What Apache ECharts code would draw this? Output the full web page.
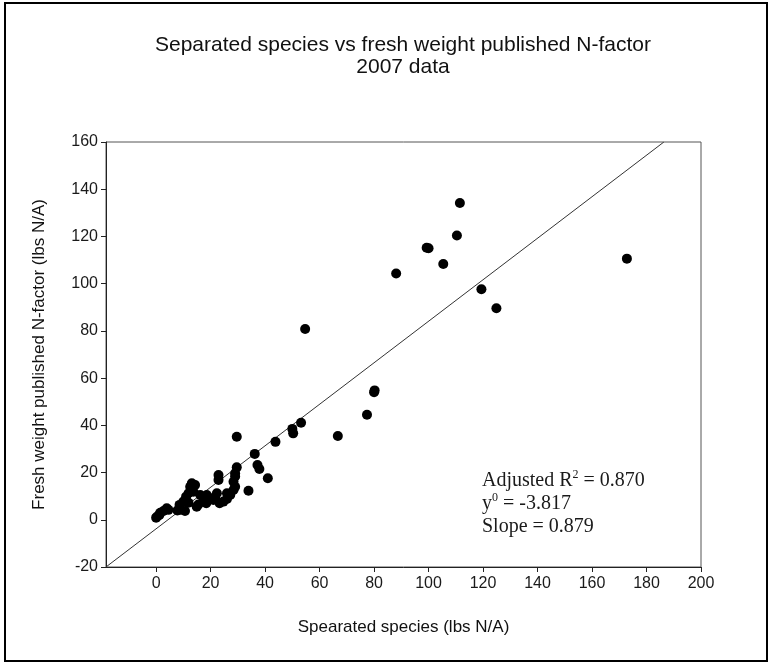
<!DOCTYPE html>
<html>
<head>
<meta charset="utf-8">
<script src="https://cdn.jsdelivr.net/npm/echarts@6/dist/echarts.min.js"></script>
<style>
  html, body { margin: 0; padding: 0; background: #fff; }
  #chart { width: 772px; height: 665px; }
</style>
</head>
<body>
<div id="chart"></div>
<script>
// Separated species N vs fresh weight published N-factor, 2007 data (lbs N/A)
var separatedSpecies = [
  0.0, 0.5, 1.2, 1.5, 2.7, 3.9, 4.5,
  7.8, 8.6, 8.8, 10.0, 10.6, 11.0, 11.9, 11.9, 12.5, 13.1, 13.1, 13.7, 14.3,
  14.9, 15.5, 16.2, 17.4, 18.4, 18.6, 19.8, 21.0, 21.7, 22.3, 22.9, 22.9,
  23.3, 24.7, 26.0, 26.0, 27.2, 28.4, 28.4, 29.0, 29.0, 29.0, 29.6, 29.6,
  33.9, 36.2, 37.2, 37.9, 41.0, 43.8, 50.0, 50.3, 53.2, 54.7, 66.7, 77.4,
  80.0, 80.2, 88.1, 99.3, 100.0, 105.4, 110.4, 111.5, 119.4, 124.9, 172.8
];
var freshWeightN = [
  0.9, 1.5, 2.0, 3.0, 3.7, 4.9, 4.2,
  3.9, 6.3, 4.2, 7.7, 3.7, 9.8, 7.2, 11.2, 14.0, 15.5, 12.6, 11.9, 14.7,
  5.5, 6.5, 10.5, 9.1, 7.0, 10.5, 9.1, 8.4, 9.1, 11.2, 16.9, 19.0,
  7.0, 7.7, 8.8, 11.2, 10.5, 12.6, 16.1, 14.0, 18.3, 19.7, 22.2, 35.2,
  12.3, 27.9, 23.2, 21.5, 17.6, 33.0, 38.5, 36.6, 41.1, 80.8, 35.5, 44.5,
  54.0, 54.8, 104.3, 115.2, 115.0, 108.3, 120.4, 134.2, 97.6, 89.6, 110.6
];

// Linear fit reported on the chart
var fitIntercept = -3.817;
var fitSlope = 0.879;
var adjustedR2 = 0.870;

// Axis extents and tick labels
var xMin = -18.4, xMax = 200;
var yMin = -20, yMax = 160;
var xTicks = [0, 20, 40, 60, 80, 100, 120, 140, 160, 180, 200];

var points = separatedSpecies.map(function (x, i) { return [x, freshWeightN[i]]; });

// Fit line spans from the left edge of the plot to where it leaves the top
var fitLine = [
  [xMin, fitIntercept + fitSlope * xMin],
  [(yMax - fitIntercept) / fitSlope, yMax]
];

var chart = echarts.init(document.getElementById('chart'), null, { renderer: 'canvas' });

var sans = 'Arial, "Liberation Sans", sans-serif';
var serif = '"Liberation Serif", "Times New Roman", serif';
var tickFont = { fontFamily: sans, fontSize: 16, color: '#1a1a1a' };

chart.setOption({
  animation: false,
  backgroundColor: '#fff',
  grid: {
    left: 106, top: 142, right: 71, bottom: 98,
    show: true, borderColor: '#555', borderWidth: 1, backgroundColor: 'transparent'
  },
  graphic: [
    {
      type: 'rect', silent: true,
      shape: { x: 5, y: 3, width: 762, height: 658 },
      style: { fill: 'none', stroke: '#000', lineWidth: 2 }
    },
    {
      type: 'text', x: 403, y: 34,
      style: {
        text: 'Separated species vs fresh weight published N-factor\n2007 data',
        align: 'center', verticalAlign: 'top',
        fontFamily: sans, fontSize: 21, lineHeight: 22,
        fill: '#111'
      }
    },
    {
      type: 'text', x: 482, y: 469,
      style: {
        text: 'Adjusted R{sup|2} = ' + adjustedR2.toFixed(3) + '\ny{sup|0} = ' + fitIntercept.toFixed(3) +
              '\nSlope = ' + fitSlope.toFixed(3),
        align: 'left', verticalAlign: 'top',
        fontFamily: serif, fontSize: 20, lineHeight: 23,
        fill: '#1a1a1a',
        rich: {
          sup: {
            fontFamily: serif, fontSize: 12, verticalAlign: 'top', lineHeight: 23, fill: '#1a1a1a'
          }
        }
      }
    }
  ],
  xAxis: {
    type: 'value', min: xMin, max: xMax,
    name: 'Spearated species (lbs N/A)',
    nameLocation: 'middle', nameGap: 52,
    nameTextStyle: { fontFamily: sans, fontSize: 17, color: '#111' },
    axisLine: { show: true, onZero: false, lineStyle: { color: '#222', width: 1 } },
    axisTick: { show: true, inside: false, length: 5, customValues: xTicks, lineStyle: { color: '#222' } },
    axisLabel: Object.assign({ margin: 9, customValues: xTicks }, tickFont),
    splitLine: { show: false }
  },
  yAxis: {
    type: 'value', min: yMin, max: yMax, interval: 20,
    name: 'Fresh weight published N-factor (lbs N/A)',
    nameLocation: 'middle', nameGap: 58, nameRotate: 90,
    nameTextStyle: { fontFamily: sans, fontSize: 17, color: '#111' },
    axisLine: { show: true, onZero: false, lineStyle: { color: '#222', width: 1 } },
    axisTick: { show: true, inside: false, length: 5, lineStyle: { color: '#222' } },
    axisLabel: Object.assign({ margin: 8 }, tickFont),
    splitLine: { show: false }
  },
  series: [
    {
      type: 'line', data: fitLine, symbol: 'none', silent: true, z: 1,
      lineStyle: { color: '#333', width: 1 }
    },
    {
      type: 'scatter', data: points, symbol: 'circle', symbolSize: 10, z: 2,
      itemStyle: { color: '#000', opacity: 1 }
    }
  ]
});
</script>
</body>
</html>
